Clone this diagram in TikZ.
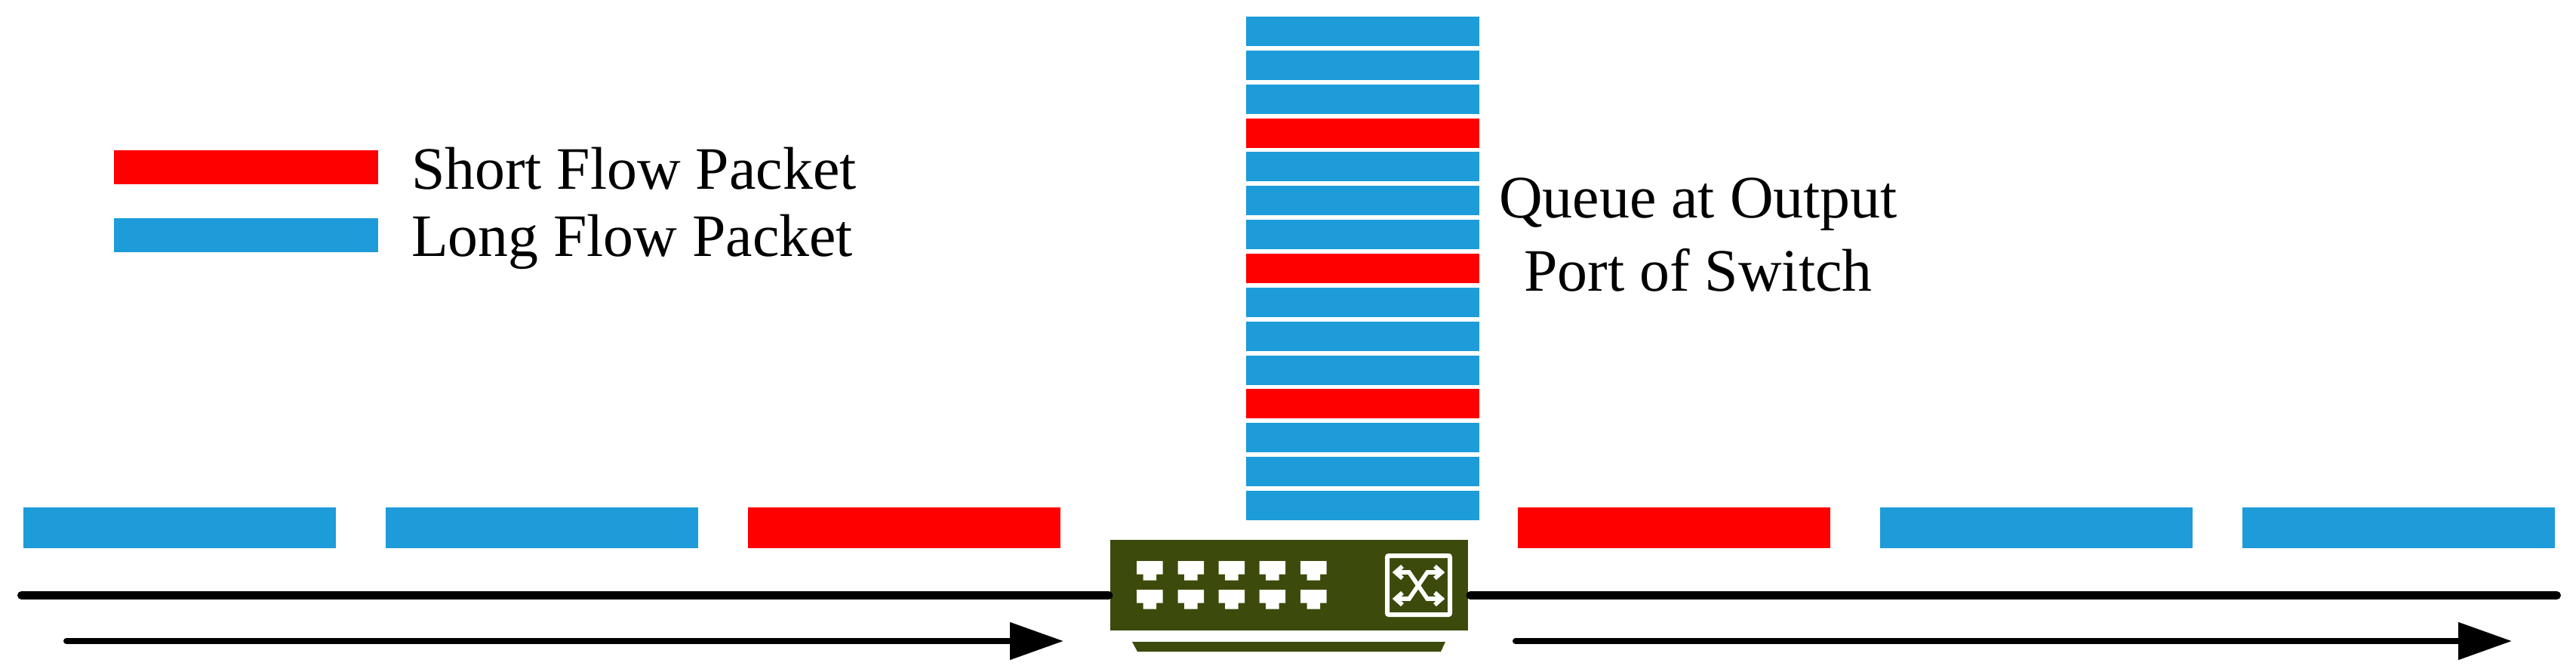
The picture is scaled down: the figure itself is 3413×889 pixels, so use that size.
\documentclass[tikz,border=0pt]{standalone}
\usepackage{fontspec}
\setmainfont{Liberation Serif}
\usetikzlibrary{arrows.meta}
\definecolor{pktblue}{HTML}{1D9CD9}
\definecolor{pktred}{HTML}{FF0000}
\definecolor{swolive}{HTML}{3C4B0C}
\tikzset{
  pkt/.style={inner sep=0pt,outer sep=0pt,draw=none,anchor=north west},
  mainsize/.style={minimum width=207pt,minimum height=27pt},
  queuesize/.style={minimum width=154.5pt,minimum height=19.5pt},
  legendsize/.style={minimum width=175pt,minimum height=22.5pt},
  long/.style={pkt,fill=pktblue},
  short/.style={pkt,fill=pktred},
  wire/.style={line width=5.5pt,line cap=round,black},
  flowarrow/.style={line width=4pt,line cap=round,black,-{Triangle[length=35.5pt,width=24pt]}},
  label/.style={inner sep=0pt,outer sep=0pt,font=\fontsize{39.9}{48.5}\selectfont},
  swbody/.style={inner sep=0pt,outer sep=0pt,fill=swolive,minimum width=237pt,minimum height=60pt},
  iconline/.style={draw=white,line width=2.8pt,miter limit=10,fill=none}
}
\begin{document}
\begin{tikzpicture}[x=0.5pt,y=-0.5pt]
\useasboundingbox (0,0) rectangle (3413,889);
% legend
\node[short,legendsize] (legS) at (151,199) {};
\node[long,legendsize] (legL) at (151,289) {};
\node[label,anchor=base west] (legStext) at (545,250) {Short Flow Packet};
\node[label,anchor=base west] (legLtext) at (545,339) {Long Flow Packet};
% queue
\foreach \i/\st in {0/long,1/long,2/long,3/short,4/long,5/long,6/long,7/short,8/long,9/long,10/long,11/short,12/long,13/long,14/long}{
  \node[\st,queuesize] (q\i) at (1651,22+44.86*\i) {};
}
\node[label,align=center,anchor=base] (qtext) at (2250,385) {Queue at Output\\Port of Switch};
% packets on the link
\node[long,mainsize] (m1) at (31,672) {};
\node[long,mainsize] (m2) at (511,672) {};
\node[short,mainsize] (m3) at (991,672) {};
\node[short,mainsize] (m4) at (2011,672) {};
\node[long,mainsize] (m5) at (2491,672) {};
\node[long,mainsize] (m6) at (2971,672) {};
% switch
\node[swbody,anchor=north west] (sw) at (1471,715) {};
\fill[swolive] (1500,850) -- (1915,850) -- (1909,863) -- (1507,863) -- cycle;
\foreach \x in {1506,1560.5,1614.5,1668.5,1723}{
  \foreach \y in {743,781}{
    \fill[white] (\x,\y) -- ++(34.5,0) -- ++(0,17.5) -- ++(-8.5,0) -- ++(0,8) -- ++(-17.5,0) -- ++(0,-8) -- ++(-8.5,0) -- cycle;
  }
}
\draw[draw=white,line width=3pt,rounded corners=1pt] (1838,736) rectangle (1921,814);
\draw[iconline] (1848,758) -- (1867,758) -- (1891,793) -- (1911,793);
\draw[iconline] (1911,758) -- (1891,758) -- (1867,793) -- (1848,793);
\foreach \yy in {758,793}{
  \draw[iconline] (1858,\yy-8) -- (1849,\yy) -- (1858,\yy+8);
  \draw[iconline] (1901,\yy-8) -- (1910,\yy) -- (1901,\yy+8);
}
% wires
\coordinate (wireL) at (28.5,788.5);
\coordinate (wireR) at (3387.5,788.5);
\coordinate (flowLa) at (88,849);
\coordinate (flowLb) at (1409,849);
\coordinate (flowRa) at (2008,849);
\coordinate (flowRb) at (3328,849);
\draw[wire] (wireL) -- ([xshift=-1pt]wireL -| sw.west);
\draw[wire] ([xshift=1.5pt]wireR -| sw.east) -- (wireR);
\draw[flowarrow] (flowLa) -- (flowLb);
\draw[flowarrow] (flowRa) -- (flowRb);
\end{tikzpicture}
\end{document}
